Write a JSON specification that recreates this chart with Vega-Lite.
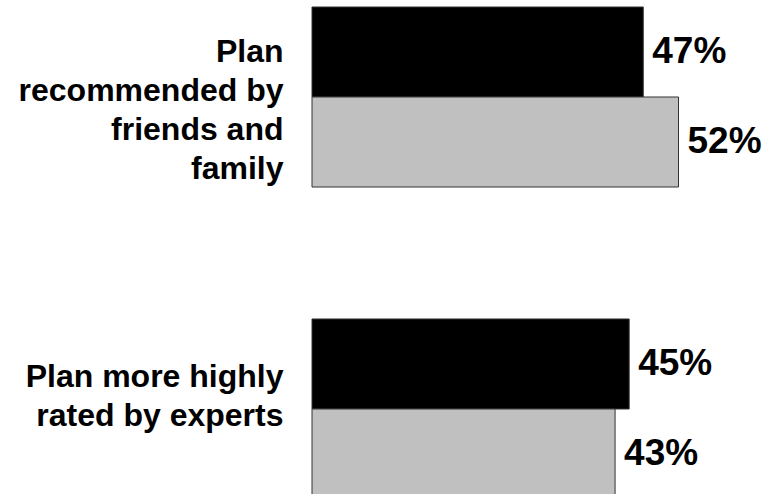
{
  "$schema": "https://vega.github.io/schema/vega-lite/v6.json",
  "autosize": {"type": "none"},
  "padding": {"left": 312, "top": 7, "right": 0, "bottom": 0},
  "width": 468,
  "height": 492,
  "background": "white",
  "config": {"view": {"stroke": null}, "font": "Liberation Sans"},
  "data": {
    "values": [
      {"category": "Plan|recommended by|friends and|family", "series": "Group 1", "value": 0.47},
      {"category": "Plan|recommended by|friends and|family", "series": "Group 2", "value": 0.52},
      {"category": "Plan more highly|rated by experts", "series": "Group 1", "value": 0.45},
      {"category": "Plan more highly|rated by experts", "series": "Group 2", "value": 0.43}
    ]
  },
  "encoding": {
    "y": {
      "field": "category",
      "type": "nominal",
      "sort": null,
      "scale": {"paddingInner": 0.423, "paddingOuter": 0},
      "axis": {
        "title": null,
        "domain": false,
        "ticks": false,
        "tickSize": 0,
        "labelPadding": 29,
        "labelFont": "Liberation Sans",
        "labelFontWeight": "bold",
        "labelFontSize": 32,
        "labelColor": "#000000",
        "labelLineHeight": 39,
        "labelLimit": 400,
        "labelAlign": "right",
        "labelBaseline": "middle",
        "labelOffset": {"condition": {"test": "indexof(datum.value, 'family') >= 0", "value": -45}, "value": -32},
        "labelExpr": "split(datum.label, '|')"
      }
    },
    "yOffset": {"field": "series", "type": "nominal", "sort": ["Group 1", "Group 2"], "scale": {"paddingInner": 0, "paddingOuter": 0}},
    "x": {
      "field": "value",
      "type": "quantitative",
      "scale": {"domain": [0, 0.664], "nice": false, "zero": true},
      "axis": null
    }
  },
  "layer": [
    {
      "mark": {"type": "bar", "stroke": "#333333", "strokeWidth": 1},
      "encoding": {
        "color": {
          "field": "series",
          "type": "nominal",
          "scale": {"domain": ["Group 1", "Group 2"], "range": ["#000000", "#c0c0c0"]},
          "legend": null
        }
      }
    },
    {
      "mark": {"type": "text", "align": "left", "baseline": "middle", "dx": 9, "font": "Liberation Sans", "fontWeight": "bold", "fontSize": 37, "color": "#000000"},
      "encoding": {
        "text": {"field": "value", "type": "quantitative", "format": ".0%"}
      }
    }
  ]
}
